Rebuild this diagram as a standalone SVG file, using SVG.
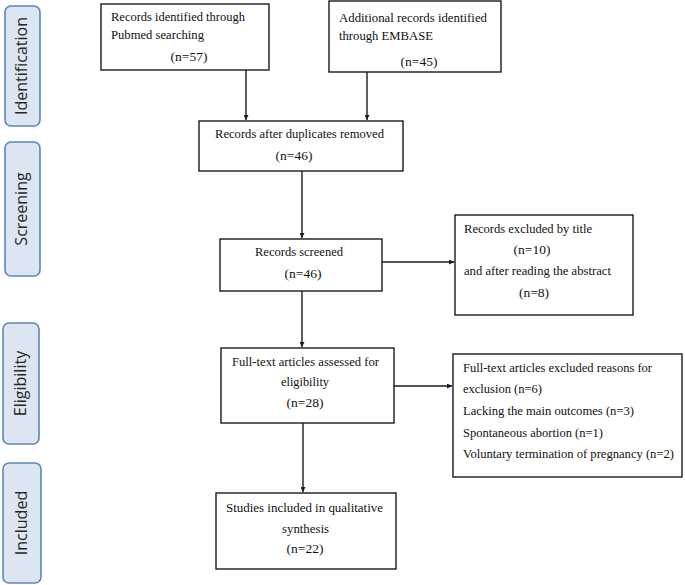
<svg xmlns="http://www.w3.org/2000/svg" width="685" height="585" viewBox="0 0 685 585">
<style>
.box{fill:#fff;stroke:#1a1a1a;stroke-width:1.4}
.phase{fill:#dce6f2;stroke:#5b87ba;stroke-width:1.6}
.pt{font-family:"Open Sans","Liberation Sans",sans-serif;font-size:16px;fill:#262626;text-anchor:middle}
.t{font-family:"Liberation Serif","Times New Roman",serif;font-size:13.5px;fill:#111}
.c{text-anchor:middle}
.ln{stroke:#1a1a1a;stroke-width:1.4;fill:none;marker-end:url(#ah)}
</style>
<defs>
<marker id="ah" viewBox="0 0 8 8" refX="8" refY="4" markerWidth="5" markerHeight="5" orient="auto" markerUnits="userSpaceOnUse">
<path d="M0,0 L8,4 L0,8 z" fill="#1a1a1a"/>
</marker>
</defs>
<rect width="685" height="585" fill="#fff"/>
<g id="phase-identification"><rect class="phase" x="5" y="6" width="35" height="120" rx="6"/><text class="pt" transform="translate(27,66) rotate(-90)">Identification</text></g>
<g id="phase-screening"><rect class="phase" x="5" y="142" width="35" height="134" rx="6"/><text class="pt" transform="translate(27,209) rotate(-90)">Screening</text></g>
<g id="phase-eligibility"><rect class="phase" x="3" y="323" width="36" height="121" rx="6"/><text class="pt" transform="translate(26,383.5) rotate(-90)">Eligibility</text></g>
<g id="phase-included"><rect class="phase" x="3" y="463" width="38" height="120" rx="6"/><text class="pt" transform="translate(27,523) rotate(-90)">Included</text></g>
<g id="connectors">
<line class="ln" x1="246" y1="70" x2="246" y2="120"/>
<line class="ln" x1="367" y1="72" x2="367" y2="120"/>
<line class="ln" x1="302" y1="171" x2="302" y2="238"/>
<line class="ln" x1="382" y1="262" x2="454" y2="262"/>
<line class="ln" x1="302" y1="291" x2="302" y2="347"/>
<line class="ln" x1="394" y1="386" x2="452" y2="386"/>
<line class="ln" x1="303" y1="423" x2="303" y2="492"/>
</g>
<g id="pubmed"><rect class="box" x="101" y="4" width="168" height="66"/>
<text class="t" x="111" y="21" textLength="134" lengthAdjust="spacingAndGlyphs">Records identified through</text>
<text class="t" x="111" y="39" textLength="93" lengthAdjust="spacingAndGlyphs">Pubmed searching</text>
<text class="t c" x="189" y="61">(n=57)</text></g>
<g id="embase"><rect class="box" x="329" y="1" width="172" height="71"/>
<text class="t" x="339" y="22" textLength="148" lengthAdjust="spacingAndGlyphs">Additional records identified</text>
<text class="t" x="339" y="40" textLength="94" lengthAdjust="spacingAndGlyphs">through EMBASE</text>
<text class="t c" x="419" y="66">(n=45)</text></g>
<g id="duplicates"><rect class="box" x="199" y="121" width="204" height="50"/>
<text class="t" x="215" y="138" textLength="169" lengthAdjust="spacingAndGlyphs">Records after duplicates removed</text>
<text class="t c" x="294" y="160">(n=46)</text></g>
<g id="screened"><rect class="box" x="220" y="239" width="162" height="52"/>
<text class="t" x="255" y="256" textLength="88" lengthAdjust="spacingAndGlyphs">Records screened</text>
<text class="t c" x="303" y="278">(n=46)</text></g>
<g id="excluded-title"><rect class="box" x="455" y="215" width="178" height="100"/>
<text class="t" x="464" y="233" textLength="128" lengthAdjust="spacingAndGlyphs">Records excluded by title</text>
<text class="t c" x="532" y="254">(n=10)</text>
<text class="t" x="464" y="275" textLength="147" lengthAdjust="spacingAndGlyphs">and after reading the abstract</text>
<text class="t c" x="534" y="297">(n=8)</text></g>
<g id="fulltext"><rect class="box" x="221" y="348" width="173" height="75"/>
<text class="t" x="232" y="366" textLength="147" lengthAdjust="spacingAndGlyphs">Full-text articles assessed for</text>
<text class="t" x="281" y="386" textLength="48" lengthAdjust="spacingAndGlyphs">eligibility</text>
<text class="t c" x="305" y="407">(n=28)</text></g>
<g id="fulltext-excluded"><rect class="box" x="453" y="354" width="229" height="123"/>
<text class="t" x="463" y="372" textLength="189" lengthAdjust="spacingAndGlyphs">Full-text articles excluded reasons for</text>
<text class="t" x="463" y="393" textLength="79" lengthAdjust="spacingAndGlyphs">exclusion (n=6)</text>
<text class="t" x="463" y="415" textLength="171" lengthAdjust="spacingAndGlyphs">Lacking the main outcomes (n=3)</text>
<text class="t" x="463" y="437" textLength="140" lengthAdjust="spacingAndGlyphs">Spontaneous abortion (n=1)</text>
<text class="t" x="463" y="458" textLength="211" lengthAdjust="spacingAndGlyphs">Voluntary termination of pregnancy (n=2)</text></g>
<g id="included"><rect class="box" x="216" y="493" width="180" height="76"/>
<text class="t" x="226" y="512" textLength="157" lengthAdjust="spacingAndGlyphs">Studies included in qualitative</text>
<text class="t" x="282" y="533" textLength="47" lengthAdjust="spacingAndGlyphs">synthesis</text>
<text class="t c" x="305" y="553">(n=22)</text></g>
</svg>
